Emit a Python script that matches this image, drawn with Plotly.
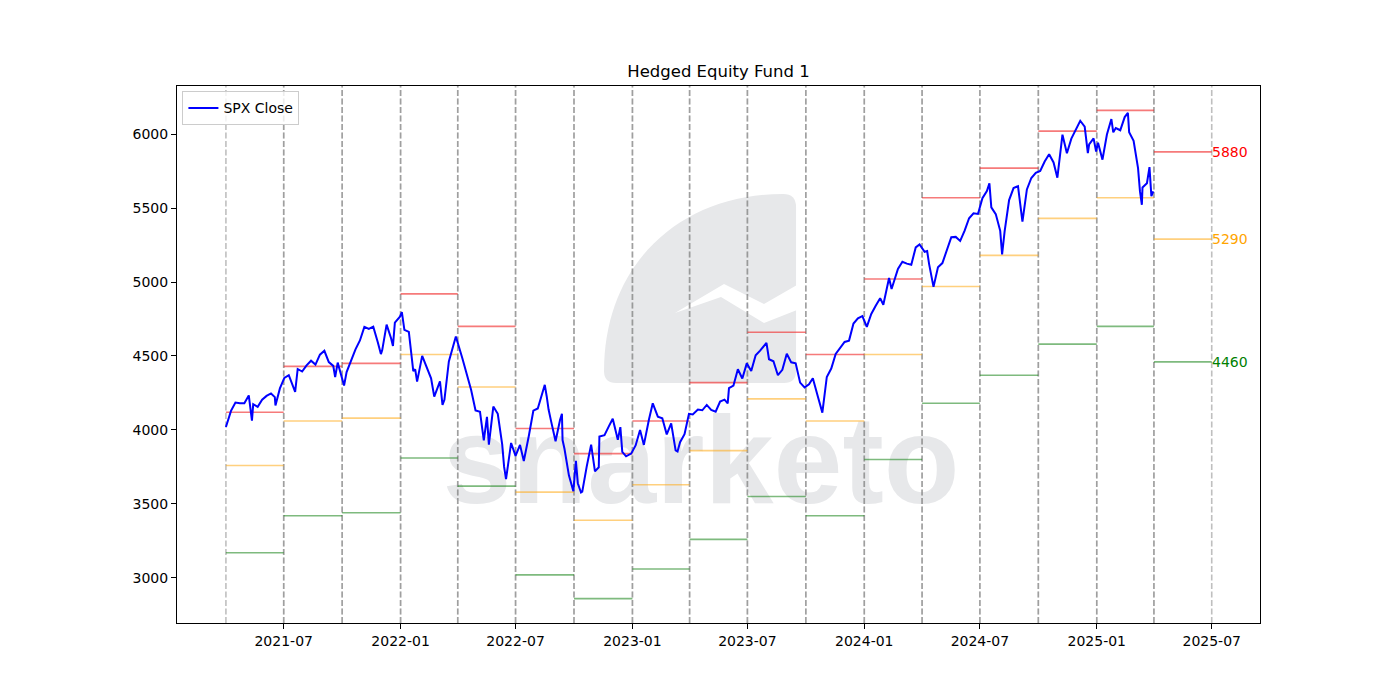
import plotly.graph_objects as go

# SPX closes (roughly weekly)
spx_dates = [
    "2021-04-01", "2021-04-09", "2021-04-16", "2021-04-23", "2021-04-30", "2021-05-07", "2021-05-12",
    "2021-05-14", "2021-05-21", "2021-05-28", "2021-06-04", "2021-06-11", "2021-06-17", "2021-06-18",
    "2021-06-25", "2021-07-02", "2021-07-09", "2021-07-19", "2021-07-23", "2021-07-30", "2021-08-06",
    "2021-08-13", "2021-08-20", "2021-08-27", "2021-09-03", "2021-09-10", "2021-09-17", "2021-09-20",
    "2021-09-24", "2021-10-01", "2021-10-04", "2021-10-08", "2021-10-15", "2021-10-22", "2021-10-29",
    "2021-11-05", "2021-11-12", "2021-11-19", "2021-11-26", "2021-12-01", "2021-12-03", "2021-12-10",
    "2021-12-17", "2021-12-20", "2021-12-23", "2021-12-31", "2022-01-03", "2022-01-07", "2022-01-14",
    "2022-01-21", "2022-01-24", "2022-01-27", "2022-02-04", "2022-02-11", "2022-02-18", "2022-02-23",
    "2022-03-04", "2022-03-08", "2022-03-11", "2022-03-18", "2022-03-29", "2022-04-08", "2022-04-14",
    "2022-04-22", "2022-04-29", "2022-05-06", "2022-05-12", "2022-05-17", "2022-05-20", "2022-05-27",
    "2022-06-03", "2022-06-10", "2022-06-13", "2022-06-16", "2022-06-24", "2022-07-01", "2022-07-08",
    "2022-07-14", "2022-07-22", "2022-07-29", "2022-08-05", "2022-08-16", "2022-08-19", "2022-08-22",
    "2022-08-26", "2022-09-02", "2022-09-09", "2022-09-12", "2022-09-13", "2022-09-16", "2022-09-23",
    "2022-09-30", "2022-10-04", "2022-10-07", "2022-10-12", "2022-10-14", "2022-10-21", "2022-10-28",
    "2022-11-03", "2022-11-09", "2022-11-10", "2022-11-18", "2022-11-25", "2022-12-01", "2022-12-09",
    "2022-12-13", "2022-12-16", "2022-12-22", "2022-12-30", "2023-01-06", "2023-01-13", "2023-01-19",
    "2023-01-27", "2023-02-02", "2023-02-10", "2023-02-17", "2023-02-24", "2023-03-03", "2023-03-10",
    "2023-03-13", "2023-03-17", "2023-03-24", "2023-03-31", "2023-04-06", "2023-04-14", "2023-04-21",
    "2023-04-28", "2023-05-05", "2023-05-12", "2023-05-19", "2023-05-26", "2023-05-31", "2023-06-02",
    "2023-06-09", "2023-06-16", "2023-06-23", "2023-06-30", "2023-07-07", "2023-07-14", "2023-07-21",
    "2023-07-31", "2023-08-04", "2023-08-11", "2023-08-18", "2023-08-25", "2023-09-01", "2023-09-08",
    "2023-09-15", "2023-09-22", "2023-09-29", "2023-10-06", "2023-10-12", "2023-10-20", "2023-10-27",
    "2023-11-03", "2023-11-10", "2023-11-17", "2023-11-24", "2023-12-01", "2023-12-08", "2023-12-15",
    "2023-12-22", "2023-12-29", "2024-01-05", "2024-01-12", "2024-01-19", "2024-01-26", "2024-01-31",
    "2024-02-09", "2024-02-13", "2024-02-23", "2024-03-01", "2024-03-08", "2024-03-15", "2024-03-22",
    "2024-03-28", "2024-04-05", "2024-04-09", "2024-04-12", "2024-04-19", "2024-04-26", "2024-05-03",
    "2024-05-10", "2024-05-17", "2024-05-24", "2024-05-31", "2024-06-07", "2024-06-14", "2024-06-21",
    "2024-06-28", "2024-07-05", "2024-07-12", "2024-07-16", "2024-07-19", "2024-07-26", "2024-08-02",
    "2024-08-05", "2024-08-09", "2024-08-16", "2024-08-23", "2024-08-30", "2024-09-06", "2024-09-13",
    "2024-09-20", "2024-09-27", "2024-10-04", "2024-10-11", "2024-10-18", "2024-10-25", "2024-10-31",
    "2024-11-08", "2024-11-15", "2024-11-22", "2024-11-29", "2024-12-06", "2024-12-13", "2024-12-18",
    "2024-12-20", "2024-12-27", "2024-12-31", "2025-01-03", "2025-01-10", "2025-01-17", "2025-01-24",
    "2025-01-27", "2025-01-31", "2025-02-07", "2025-02-14", "2025-02-19", "2025-02-21", "2025-02-28",
    "2025-03-07", "2025-03-10", "2025-03-13", "2025-03-14", "2025-03-21", "2025-03-25", "2025-03-28",
    "2025-03-31",
]
spx_close = [
    4020, 4129, 4185, 4180, 4181, 4233, 4063,
    4174, 4156, 4204, 4230, 4247, 4222, 4166,
    4281, 4352, 4370, 4258, 4412, 4395, 4437,
    4468, 4442, 4509, 4535, 4459, 4433, 4358,
    4455, 4357, 4300, 4391, 4471, 4545, 4605,
    4697, 4683, 4698, 4595, 4513, 4538, 4712,
    4620, 4568, 4726, 4766, 4797, 4677, 4663,
    4398, 4410, 4327, 4501, 4419, 4349, 4225,
    4329, 4170, 4204, 4463, 4632, 4488, 4393,
    4272, 4132, 4123, 3930, 4088, 3901, 4158,
    4109, 3901, 3750, 3667, 3912, 3825, 3899,
    3790, 3962, 4130, 4145, 4305, 4228, 4138,
    4058, 3924, 4067, 4110, 3932, 3873, 3693,
    3586, 3791, 3640, 3577, 3583, 3752, 3901,
    3720, 3748, 3956, 3965, 4026, 4076, 3934,
    4019, 3852, 3822, 3840, 3895, 3999, 3899,
    4071, 4180, 4090, 4079, 3970, 4045, 3862,
    3855, 3917, 3971, 4109, 4105, 4138, 4133,
    4169, 4136, 4124, 4192, 4205, 4180, 4282,
    4299, 4410, 4348, 4450, 4399, 4505, 4536,
    4589, 4478, 4464, 4370, 4406, 4515, 4457,
    4450, 4320, 4288, 4309, 4349, 4224, 4117,
    4358, 4415, 4514, 4559, 4595, 4604, 4719,
    4755, 4770, 4697, 4784, 4840, 4891, 4846,
    5027, 4953, 5089, 5137, 5124, 5117, 5234,
    5254, 5204, 5209, 5123, 4967, 5100, 5128,
    5223, 5303, 5305, 5278, 5347, 5431, 5465,
    5460, 5567, 5615, 5667, 5505, 5459, 5346,
    5186, 5344, 5554, 5635, 5648, 5408, 5626,
    5703, 5738, 5751, 5815, 5864, 5808, 5705,
    5996, 5870, 5969, 6032, 6090, 6051, 5872,
    5931, 5971, 5882, 5942, 5827, 5997, 6101,
    6012, 6041, 6026, 6115, 6144, 6013, 5955,
    5770, 5614, 5522, 5639, 5668, 5777, 5581,
    5612,
]

# quarterly strike levels
period_start = [
    "2021-04-01", "2021-07-01", "2021-10-01", "2022-01-01", "2022-04-01", "2022-07-01",
    "2022-10-01", "2023-01-01", "2023-04-01", "2023-07-01", "2023-10-01", "2024-01-01",
    "2024-04-01", "2024-07-01", "2024-10-01", "2025-01-01", "2025-04-01",
]
period_end = period_start[1:] + ["2025-07-01"]
call_strike = [4120, 4430, 4450, 4920, 4700, 4010, 3840, 4060, 4320, 4660, 4510, 5020,
               5570, 5770, 6020, 6160, 5880]
put_strike = [3760, 4060, 4080, 4510, 4290, 3580, 3390, 3630, 3860, 4210, 4060, 4510,
              4970, 5180, 5430, 5570, 5290]
low_put_strike = [3170, 3420, 3440, 3810, 3620, 3020, 2860, 3060, 3260, 3550, 3420, 3800,
                  4180, 4370, 4580, 4700, 4460]

x_ticks = ["2021-07-01", "2022-01-01", "2022-07-01", "2023-01-01", "2023-07-01",
           "2024-01-01", "2024-07-01", "2025-01-01", "2025-07-01"]
y_ticks = [3000, 3500, 4000, 4500, 5000, 5500, 6000]
y_range = [2695, 6325]

FONT = "DejaVu Sans, sans-serif"
OFF = 7  # page offset of the screenshot

# plot area in pixels, used for the watermark
L, R, T, B = 176, 1259, 85, 622


def px(x, y):
    return (x - L) / (R - L), (B - y) / (B - T)


def path_from(cmds):
    s = ""
    for cmd, pts in cmds:
        s += cmd + " " + " ".join("%.4f,%.4f" % px(*p) for p in pts) + " "
    return s + "Z"


fig = go.Figure()
wm = "#e7e8ea"

# watermark word (as first trace so everything else is drawn over it)
fig.add_trace(go.Scatter(x=["2023-04-19"], y=[3715], mode="text", text=["snarketo"],
                         textposition="middle center",
                         textfont=dict(family="Liberation Sans", size=124, color=wm,
                                       weight="bold"),
                         showlegend=False, hoverinfo="skip"))

# quarter boundaries, drawn at the start and at the end of each period
for dates in (period_start, period_end):
    xs, ys = [], []
    for d in dates:
        xs += [d, d, None]
        ys += [y_range[0], y_range[1], None]
    fig.add_trace(go.Scatter(x=xs, y=ys, mode="lines", showlegend=False, hoverinfo="skip",
                             line=dict(color="rgba(128,128,128,0.5)", width=1.6,
                                       dash="6px,2.5px")))


# horizontal strike lines, one trace per colour
def segments(levels):
    xs, ys = [], []
    for s, e, v in zip(period_start, period_end, levels):
        xs += [s, e, None]
        ys += [v, v, None]
    return xs, ys


for levels, col in [(call_strike, "rgba(240,40,40,0.62)"),
                    (put_strike, "rgba(255,170,20,0.55)"),
                    (low_put_strike, "rgba(20,130,20,0.55)")]:
    xs, ys = segments(levels)
    fig.add_trace(go.Scatter(x=xs, y=ys, mode="lines", line=dict(color=col, width=1.6),
                             showlegend=False, hoverinfo="skip"))

fig.add_trace(go.Scatter(x=spx_dates, y=spx_close, mode="lines", name="SPX Close",
                         line=dict(color="#0000ff", width=2)))

shapes = []
# watermark logo
shapes.append(dict(type="path", xref="paper", yref="paper", layer="below",
                   fillcolor=wm, line=dict(width=0),
                   path=path_from([("M", [(603, 370)]),
                                   ("C", [(603, 262), (680, 193), (782, 193)]),
                                   ("Q", [(795, 193), (795, 206)]),
                                   ("L", [(795, 370)]),
                                   ("Q", [(795, 382), (783, 382)]),
                                   ("L", [(615, 382)]),
                                   ("Q", [(603, 382), (603, 370)])])))
chevron = [(674, 312), (723, 283), (763, 303), (796, 284), (796, 309),
           (763, 322), (720, 296)]
shapes.append(dict(type="path", xref="paper", yref="paper", layer="below",
                   fillcolor="white", line=dict(width=0),
                   path=path_from([("M", [chevron[0]])] + [("L", [p]) for p in chevron[1:]])))

annotations = []
# labels for the latest period
for v, col in [(call_strike[-1], "red"), (put_strike[-1], "orange"), (low_put_strike[-1], "green")]:
    annotations.append(dict(x=period_end[-1], y=v, xref="x", yref="y", text=str(v),
                            showarrow=False, xanchor="left", yanchor="middle", xshift=-2,
                            font=dict(family=FONT, size=14, color=col)))

fig.update_layout(
    width=1400, height=700,
    margin=dict(l=L - OFF, r=1400 - R + OFF, t=T - OFF, b=700 - B + OFF),
    paper_bgcolor="white", plot_bgcolor="white",
    font=dict(family=FONT, size=14, color="black"),
    title=dict(text="Hedged Equity Fund 1", x=0.5, xref="paper", xanchor="center",
               y=1 - (70 - OFF) / 700, yanchor="middle", font=dict(size=16.5)),
    shapes=shapes, annotations=annotations,
    legend=dict(x=0.005, y=0.99, xanchor="left", yanchor="top",
                bgcolor="rgba(255,255,255,0.8)", bordercolor="#cccccc", borderwidth=1,
                font=dict(size=14)),
    showlegend=True,
)
fig.update_xaxes(type="date", range=["2021-01-14", "2025-09-15"],
                 tickvals=x_ticks, tickformat="%Y-%m", showgrid=False,
                 showline=True, linecolor="black", linewidth=1, mirror=True,
                 ticks="outside", ticklen=5, tickcolor="black", zeroline=False)
fig.update_yaxes(range=y_range, tickvals=y_ticks, showgrid=False,
                 showline=True, linecolor="black", linewidth=1, mirror=True,
                 ticks="outside", ticklen=5, tickcolor="black", zeroline=False)

fig.write_html("out.html")
